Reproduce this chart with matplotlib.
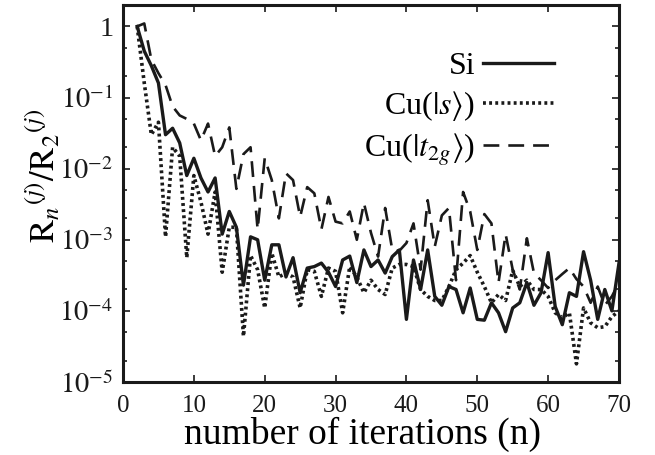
import numpy as np
import matplotlib
matplotlib.use("Agg")
import matplotlib.pyplot as plt
from matplotlib.ticker import FixedLocator, FuncFormatter, LogLocator, NullFormatter

plt.rcParams["font.family"] = ["Liberation Serif", "DejaVu Serif"]
plt.rcParams["mathtext.fontset"] = "stix"

n = list(range(2, 71))

si = [1.0, 0.45, 0.28, 0.16, 0.03, 0.037, 0.023, 0.008, 0.014, 0.0074, 0.0047,
      0.0074, 0.0012, 0.0025, 0.0015, 2.3e-4, 1.1e-3, 1.0e-3, 2.7e-4, 8.5e-4,
      8.5e-4, 3.0e-4, 5.6e-4, 1.8e-4, 4.0e-4, 4.2e-4, 4.7e-4, 3.5e-4, 2.2e-4,
      5.2e-4, 5.9e-4, 2.5e-4, 7.2e-4, 4.2e-4, 5.2e-4, 3.4e-4, 5.8e-4, 7.2e-4,
      7.6e-5, 5.2e-4, 2.0e-4, 7.2e-4, 1.6e-4, 1.2e-4, 2.2e-4, 2.0e-4, 9.4e-5,
      2.1e-4, 7.6e-5, 7.4e-5, 1.3e-4, 9.4e-5, 5.1e-5, 1.1e-4, 1.3e-4, 2.5e-4,
      1.2e-4, 1.8e-4, 6.6e-4, 1.15e-4, 6.4e-5, 1.8e-4, 1.6e-4, 6.8e-4, 2.7e-4,
      7.6e-5, 2.0e-4, 1.0e-4, 4.7e-4]

cu_s = [1.0, 0.16, 0.03, 0.045, 1.1e-3, 0.02, 0.015, 5.6e-4, 8.0e-3, 3.4e-3,
        1.2e-3, 4.7e-3, 3.5e-4, 1.5e-3, 1.5e-3, 4.4e-5, 6.0e-4, 3.8e-4, 1.1e-4,
        6.5e-4, 3.0e-4, 3.4e-4, 3.0e-4, 1.1e-4, 3.8e-4, 3.6e-4, 1.6e-4, 4.0e-4,
        3.6e-4, 9.4e-5, 4.2e-4, 3.0e-4, 1.8e-4, 2.7e-4, 2.0e-4, 1.7e-4, 4.0e-4,
        4.5e-4, 4.5e-4, 4.2e-4, 2.0e-4, 1.6e-4, 1.4e-4, 1.4e-4, 2.2e-4, 3.8e-4,
        4.7e-4, 6.0e-4, 3.5e-4, 2.2e-4, 1.3e-4, 1.7e-4, 1.4e-4, 3.7e-4, 2.2e-4,
        2.7e-4, 2.0e-4, 2.0e-4, 1.6e-4, 9.4e-5, 8.0e-5, 9.4e-5, 1.8e-5, 1.1e-4,
        6.8e-5, 5.8e-5, 6.0e-5, 8.3e-5, 1.0e-4]

cu_t2g = [1.0, 1.1, 0.34, 0.22, 0.15, 0.075, 0.056, 0.05, 0.043, 0.025, 0.043,
          0.015, 0.02, 0.038, 5.2e-3, 0.016, 0.02, 1.4e-3, 0.014, 6.9e-3, 2.0e-3,
          8.6e-3, 6.9e-3, 2.1e-3, 5.5e-3, 4.5e-3, 1.4e-3, 4.0e-3, 1.8e-3, 1.7e-3,
          2.5e-3, 1.0e-3, 3.3e-3, 1.25e-3, 5.8e-4, 2.8e-3, 7.2e-4, 7.0e-4, 9.0e-4,
          1.7e-3, 3.8e-4, 3.6e-3, 8.0e-4, 2.2e-3, 2.8e-3, 2.7e-4, 4.7e-3, 2.5e-3,
          7.2e-4, 2.3e-3, 1.7e-3, 2.5e-4, 1.2e-3, 3.8e-4, 2.0e-4, 1.05e-3, 3.4e-4,
          2.7e-4, 2.1e-4, 2.7e-4, 3.3e-4, 4.0e-4, 2.8e-4, 2.2e-4, 1.3e-4, 2.2e-4,
          1.2e-4, 1.6e-4, 2.5e-4]

labels = ["Si", r"Cu($|s\rangle$)", r"Cu($|t_{2g}\rangle$)"]
x_ticks = [0, 10, 20, 30, 40, 50, 60, 70]
y_ticks = [1e-5, 1e-4, 1e-3, 1e-2, 1e-1, 1]

fig = plt.figure(figsize=(6.55, 4.55), dpi=100)
ax = fig.add_axes([0.1878, 0.1604, 0.7572, 0.8286])

ax.plot(n, si, color="#1a1a1a", lw=2.4, ls="-", label=labels[0])
ax.plot(n, cu_s, color="#1a1a1a", lw=2.6, ls=(0, (0.8, 0.9)), label=labels[1])
ax.plot(n, cu_t2g, color="#1a1a1a", lw=1.9, ls=(0, (6.0, 3.4)), label=labels[2])

ax.set_yscale("log")
ax.set_xlim(0, 70)
ax.set_ylim(1e-5, 2.0)

ax.xaxis.set_major_locator(FixedLocator(x_ticks))
ax.yaxis.set_major_locator(FixedLocator(y_ticks))
ax.yaxis.set_minor_locator(LogLocator(base=10, subs=(2.0, 5.0)))
ax.yaxis.set_minor_formatter(NullFormatter())


def yfmt(v, pos):
    e = int(round(np.log10(v)))
    return "1" if e == 0 else r"$10^{-%d}$" % (-e)


ax.yaxis.set_major_formatter(FuncFormatter(yfmt))

ax.tick_params(which="both", direction="in", top=True, right=True,
               width=1.2, colors="#1a1a1a")
ax.tick_params(which="major", length=5)
ax.tick_params(which="minor", length=3)
ax.tick_params(axis="x", pad=9, labelsize=18)
ax.tick_params(axis="y", pad=7, labelsize=20.5)

for sp in ax.spines.values():
    sp.set_linewidth(2.2)
    sp.set_color("#1a1a1a")

ax.set_xlabel("number of iterations (n)", fontsize=27)
ax.xaxis.set_label_coords(0.482, -0.093, transform=ax.transAxes)
ax.xaxis.label.set_verticalalignment("top")
ax.set_ylabel(r"$\mathrm{R}_{n}{}^{(j)}/\mathrm{R}_{2}{}^{(j)}$", fontsize=25)
ax.yaxis.set_label_coords(-0.121, 0.546, transform=ax.transAxes)

leg = ax.legend(loc="upper right", bbox_to_anchor=(0.868, 0.875),
                frameon=False, markerfirst=False, fontsize=23,
                handlelength=2.2, handletextpad=0.25, labelspacing=0.25,
                borderpad=0, borderaxespad=0)

fig.savefig("out.png", dpi=100)
